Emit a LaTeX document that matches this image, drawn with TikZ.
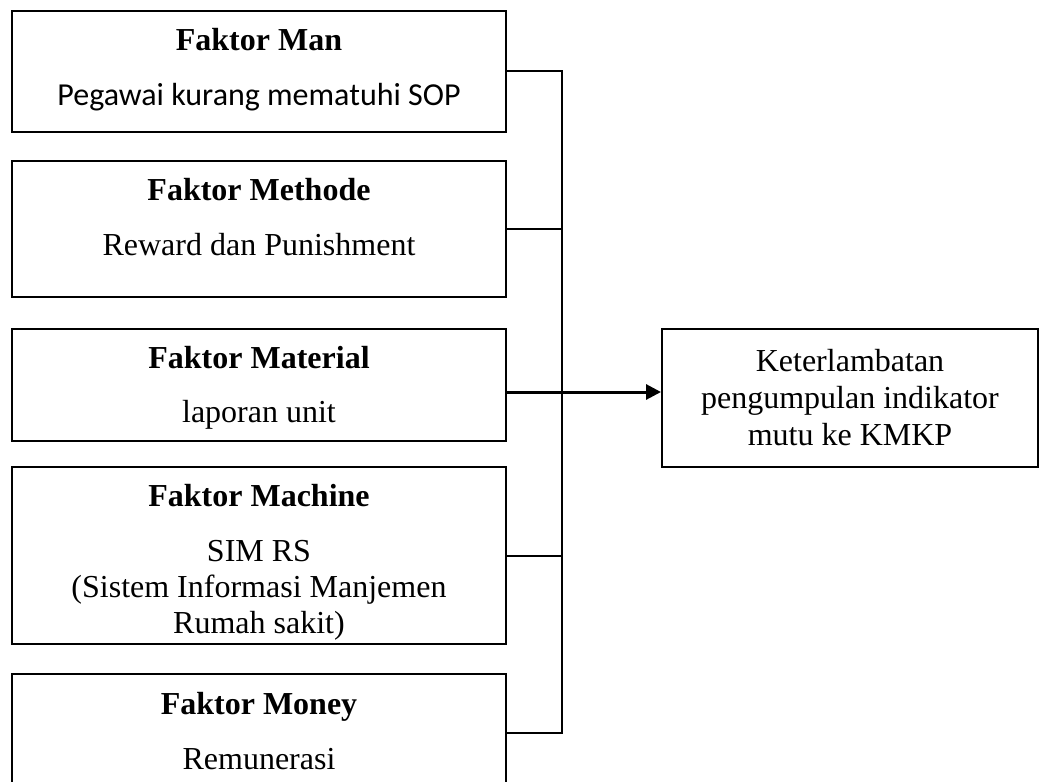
\documentclass[tikz,border=0pt]{standalone}
\usepackage{fontspec}
\setmainfont{Liberation Serif}
\newfontfamily\carlito{Carlito}
\usetikzlibrary{arrows.meta}
\tikzset{
  kotak/.style={draw, line width=1pt, minimum width=247pt, inner sep=0pt},
  judul/.style={anchor=base, font=\fontsize{16}{18.5}\selectfont\bfseries},
  isi/.style={anchor=base, align=center, font=\fontsize{16}{18}\selectfont},
  garis/.style={line width=1pt},
  panah/.style={line width=1.5pt, -{Triangle[length=7.5pt,width=7.5pt]}}
}

\begin{document}
\begin{tikzpicture}[x=0.5pt,y=-0.5pt]
            \useasboundingbox (0,0) rectangle (1046,782);
            % kotak faktor
            \node (man) at (259,71) [kotak, minimum height=60.5pt]{};
            \node (metode) at (259,228.5) [kotak, minimum height=68pt]{};
            \node (material) at (259,385) [kotak, minimum height=56pt]{};
            \node (mesin) at (259,555.5) [kotak, minimum height=88.5pt]{};
            \node (uang) at (259,733) [kotak, minimum height=59pt]{};

            % judul faktor
            \node (jman) at ([yshift=-20.5pt]man.north) [judul]{Faktor Man};
            \node (jmetode) at ([yshift=-20.5pt]metode.north) [judul]{Faktor Methode};
            \node (jmaterial) at ([yshift=-20pt]material.north) [judul]{Faktor Material};
            \node (jmesin) at ([yshift=-20pt]mesin.north) [judul]{Faktor Machine};
            \node (juang) at ([yshift=-20.5pt]uang.north) [judul]{Faktor Money};

            % isi faktor (base = baris terakhir)
            \node (iman) at ([yshift=-48pt]man.north) [isi, font=\fontsize{16}{18}\selectfont\carlito]{Pegawai kurang mematuhi SOP};
            \node (imetode) at ([yshift=-48pt]metode.north) [isi]{Reward dan Punishment};
            \node (imaterial) at ([yshift=-47pt]material.north) [isi]{laporan unit};
            \node (imesin) at ([yshift=-83.5pt]mesin.north) [isi]{SIM RS\\ (Sistem Informasi Manjemen\\ Rumah sakit)};
            \node (iuang) at ([yshift=-48pt]uang.north) [isi]{Remunerasi};

            % kotak akibat
            \node (hasil) at (850,398) [draw, line width=1pt, minimum width=188pt, minimum height=69pt, inner sep=0pt, align=center, font=\fontsize{16}{18.5}\selectfont]{Keterlambatan\\ pengumpulan indikator\\ mutu ke KMKP};

            % garis penghubung
            \coordinate (bus) at (562,0);
            \draw[garis] (man.east) -- (man.east -| bus) -- (uang.east -| bus) -- (uang.east);
            \draw[garis] (metode.east) -- (metode.east -| bus);
            \draw[garis] (mesin.east) -- (mesin.east -| bus);
            \draw[panah] ([yshift=-3.5pt]material.east) -- ([yshift=-3.5pt]material.east -| hasil.west);
\end{tikzpicture}
\end{document}
